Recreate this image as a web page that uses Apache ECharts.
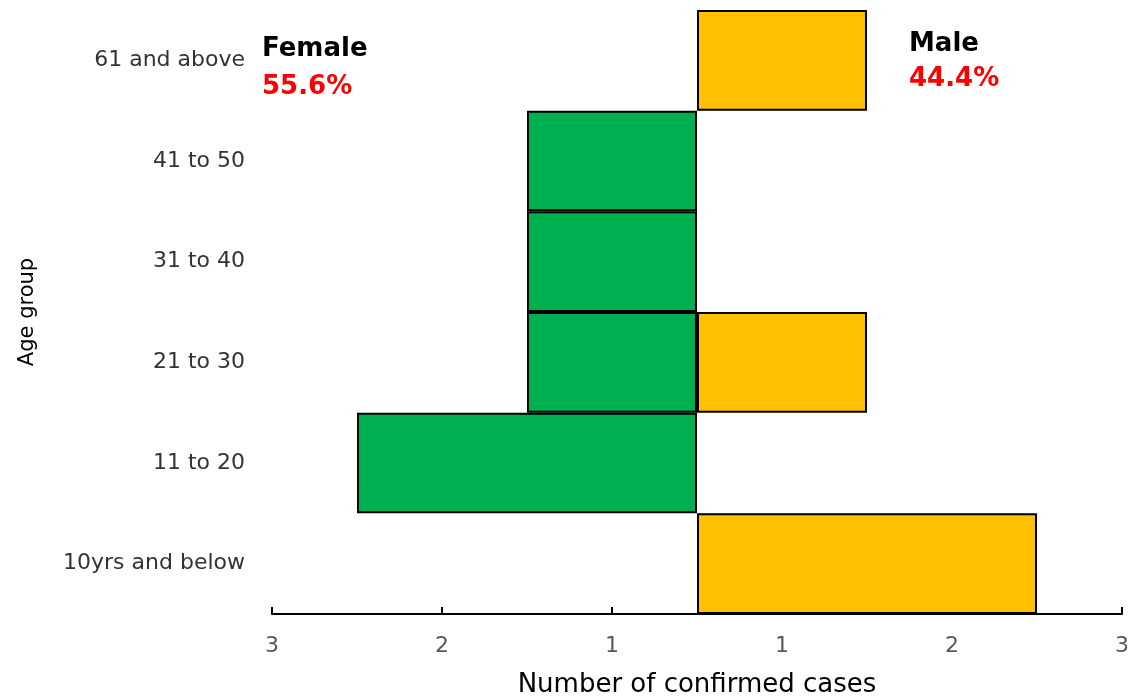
<!DOCTYPE html>
<html>
<head>
<meta charset="utf-8">
<script src="https://cdn.jsdelivr.net/npm/echarts@6/dist/echarts.min.js"></script>
<style>
  html, body { margin: 0; padding: 0; background: #fff; }
  #chart { width: 1135px; height: 700px; }
</style>
</head>
<body>
<div id="chart"></div>
<script>
// Age groups, bottom to top
const ageGroups = ['10yrs and below', '11 to 20', '21 to 30', '31 to 40', '41 to 50', '61 and above'];
// Confirmed cases per age group
const femaleCases = [0, 2, 1, 1, 1, 0];
const maleCases = [2, 0, 1, 0, 0, 1];
// Tick positions along the case axis
const tickValues = [-2.5, -1.5, -0.5, 0.5, 1.5, 2.5];

const femaleTotal = femaleCases.reduce((a, b) => a + b, 0);
const maleTotal = maleCases.reduce((a, b) => a + b, 0);
const allTotal = femaleTotal + maleTotal;
const pct = v => (v / allTotal * 100).toFixed(1) + '%';

const baseFont = '"DejaVu Sans", sans-serif';
const boldFont = '"DejaVu Sans", sans-serif';

const chart = echarts.init(document.getElementById('chart'));
chart.setOption({
  animation: false,
  grid: { left: 272, right: 13, top: 10, bottom: 86, containLabel: false, outerBoundsMode: 'none' },
  xAxis: {
    type: 'value',
    min: -2.5,
    max: 2.5,
    name: 'Number of confirmed cases',
    nameLocation: 'middle',
    nameGap: 58,
    nameTextStyle: { color: '#000', fontSize: 26, fontFamily: baseFont },
    splitLine: { show: false },
    axisLine: { show: true, onZero: false, lineStyle: { color: '#000', width: 2 } },
    axisTick: { show: true, inside: true, length: 7, customValues: tickValues, lineStyle: { color: '#000', width: 2 } },
    axisLabel: {
      customValues: tickValues,
      color: '#595959',
      fontSize: 22,
      fontFamily: baseFont,
      margin: 21,
      formatter: v => String(Math.round(Math.abs(v)))
    }
  },
  yAxis: {
    type: 'category',
    data: ageGroups,
    name: 'Age group',
    nameLocation: 'middle',
    nameGap: 234,
    nameRotate: 90,
    nameTextStyle: { color: '#000', fontSize: 21, fontFamily: baseFont },
    axisLine: { show: false },
    axisTick: { show: false },
    axisLabel: { color: '#333', fontSize: 22, fontFamily: baseFont, margin: 27 }
  },
  series: [
    {
      name: 'Female',
      type: 'bar',
      data: femaleCases.map(v => v ? -v : null),
      barCategoryGap: 0,
      barGap: '-100%',
      itemStyle: { color: '#00B050', borderColor: '#000', borderWidth: 2 }
    },
    {
      name: 'Male',
      type: 'bar',
      data: maleCases.map(v => v ? v : null),
      barCategoryGap: 0,
      barGap: '-100%',
      itemStyle: { color: '#FFC000', borderColor: '#000', borderWidth: 2 }
    }
  ],
  graphic: [
    { type: 'text', x: 262, y: 49, style: { text: 'Female', fill: '#000', font: 'bold 26px ' + boldFont, verticalAlign: 'middle' } },
    { type: 'text', x: 262, y: 87, style: { text: pct(femaleTotal), fill: '#FF0000', font: 'bold 26px ' + boldFont, verticalAlign: 'middle' } },
    { type: 'text', x: 909, y: 44, style: { text: 'Male', fill: '#000', font: 'bold 26px ' + boldFont, verticalAlign: 'middle' } },
    { type: 'text', x: 909, y: 79, style: { text: pct(maleTotal), fill: '#FF0000', font: 'bold 26px ' + boldFont, verticalAlign: 'middle' } }
  ]
});
</script>
</body>
</html>
